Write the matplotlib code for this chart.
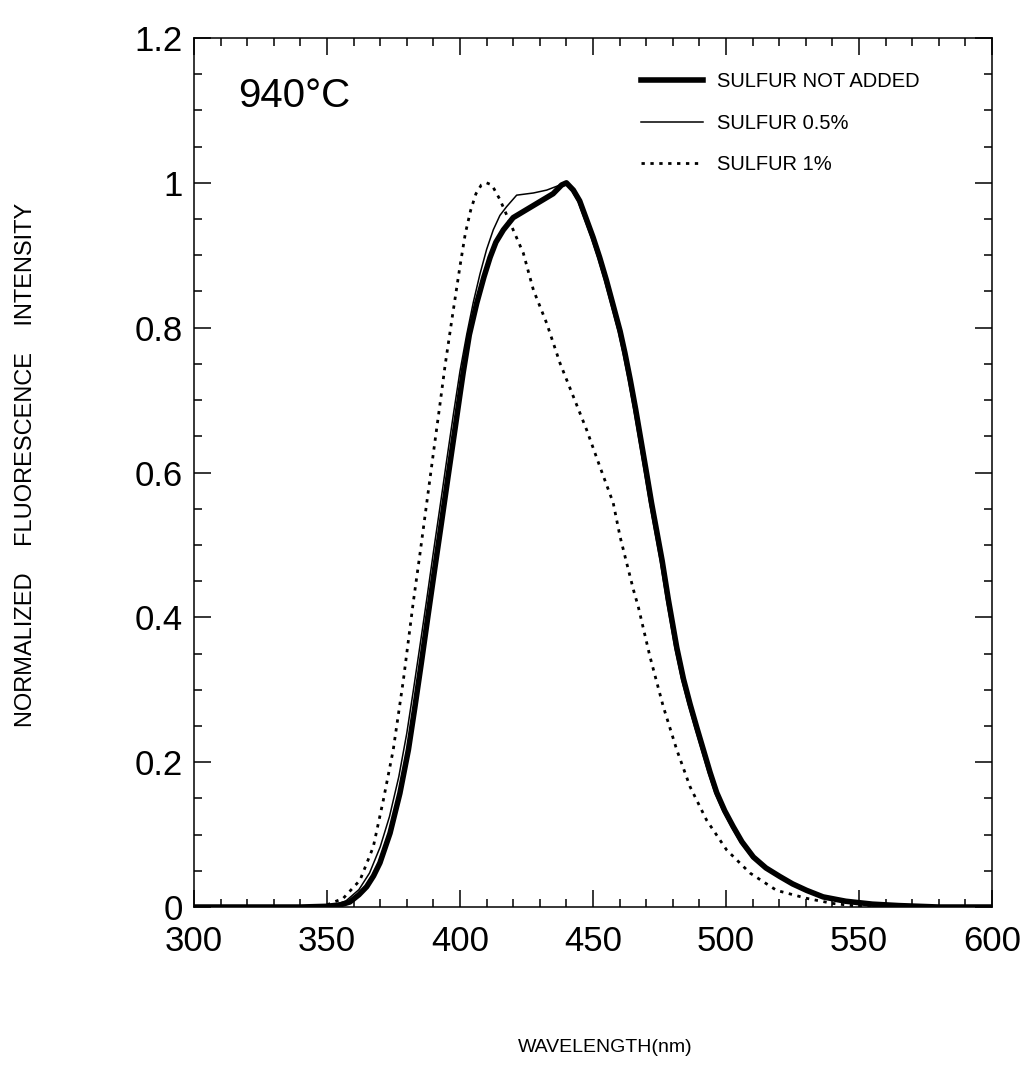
import matplotlib
matplotlib.use("Agg")
import matplotlib.pyplot as plt
from matplotlib.ticker import MultipleLocator

plt.rcParams['font.family'] = ['Liberation Sans', 'DejaVu Sans']

# sulfur not added (thick line)
wl_none = [300, 340, 350, 355, 358.6, 362, 364.9, 367.5, 369.9, 373.7, 377.4, 380.6, 383,
           385.5, 388, 390.5, 393, 395.5, 398, 400, 401.2, 403.5, 406.3, 409, 411.3, 413.5,
           416.3, 420, 425, 430, 435, 438.2, 440, 442.6, 445, 448, 450, 452.5, 455, 457.5,
           460.2, 462, 464, 466, 468, 470, 472, 474, 476, 478.3, 481.5, 484, 486.5, 489,
           491.5, 494, 496.5, 499.5, 502.7, 506, 510.3, 515, 520.3, 525, 530.3, 536.5, 545,
           555, 565, 580, 600]
int_none = [0, 0, 0.001, 0.003, 0.007, 0.017, 0.028, 0.043, 0.061, 0.102, 0.157, 0.217, 0.275,
            0.338, 0.403, 0.467, 0.53, 0.594, 0.657, 0.708, 0.738, 0.79, 0.834, 0.87, 0.897, 0.918,
            0.935, 0.952, 0.963, 0.974, 0.985, 0.997, 1.0, 0.99, 0.975, 0.945, 0.925, 0.897, 0.866,
            0.832, 0.795, 0.765, 0.728, 0.688, 0.645, 0.602, 0.558, 0.518, 0.478, 0.425, 0.358,
            0.315, 0.28, 0.248, 0.217, 0.186, 0.158, 0.133, 0.111, 0.09, 0.069, 0.054, 0.042,
            0.032, 0.023, 0.014, 0.008, 0.004, 0.002, 0, 0]

# sulfur 0.5% (thin line)
wl_05 = [300, 345, 352, 357, 362, 366, 370, 373.5, 377, 380, 382.5, 385, 387.5, 390, 392.5,
         395, 397.5, 400, 402.5, 405, 407.5, 410, 412.5, 415, 417.5, 421.3, 427.6, 432.6,
         437.6, 440, 441.9, 444.3, 447.3, 449.3, 451.8, 454.3, 456.8, 459.5, 461.3, 463.3,
         465.3, 467.3, 469.3, 471.3, 473.3, 475.3, 477.6, 480.8, 483.3, 485.8, 488.3, 490.8,
         493.3, 495.8, 498.8, 502, 505.3, 509.6, 514.3, 519.6, 524.3, 529.6, 535.8, 544,
         554, 564, 578, 600]
int_05 = [0, 0, 0.002, 0.008, 0.024, 0.047, 0.083, 0.125, 0.18, 0.24, 0.30, 0.362, 0.425, 0.49,
          0.553, 0.617, 0.68, 0.74, 0.79, 0.835, 0.874, 0.908, 0.935, 0.955, 0.967, 0.983, 0.986,
          0.990, 0.997, 1.0, 0.99, 0.975, 0.945, 0.925, 0.897, 0.866, 0.832, 0.795, 0.765,
          0.728, 0.688, 0.645, 0.602, 0.558, 0.518, 0.478, 0.425, 0.358, 0.315, 0.28, 0.248,
          0.217, 0.186, 0.158, 0.133, 0.111, 0.09, 0.069, 0.054, 0.042, 0.032, 0.023, 0.014,
          0.008, 0.004, 0.002, 0, 0]

# sulfur 1% (dotted line)
wl_1 = [300, 345, 350, 356.1, 362.4, 367.4, 371.2, 374.9, 378.7, 382.4, 385, 387.5, 390,
        392.5, 394.4, 396.9, 400, 402, 404, 406, 408, 410, 412, 415, 420, 423.8, 427.6,
        432.6, 437.6, 442.6, 447.6, 452.6, 457.6, 460.2, 465.2, 467, 471.4, 476.4, 481.5,
        486.5, 492.7, 500.2, 509, 519, 530.3, 540, 550, 600]
int_1 = [0, 0, 0.003, 0.012, 0.037, 0.083, 0.148, 0.217, 0.313, 0.42, 0.489, 0.558, 0.627,
         0.695, 0.748, 0.81, 0.885, 0.93, 0.962, 0.985, 0.997, 1.0, 0.997, 0.977, 0.935, 0.903,
         0.852, 0.806, 0.751, 0.705, 0.659, 0.608, 0.558, 0.511, 0.438, 0.415, 0.346, 0.277,
         0.217, 0.166, 0.120, 0.079, 0.047, 0.023, 0.012, 0.005, 0.001, 0]

labels = ['SULFUR NOT ADDED', 'SULFUR 0.5%', 'SULFUR 1%']

fig = plt.figure(figsize=(10.28, 10.86), dpi=100)
ax = fig.add_axes([0.1887, 0.1648, 0.7763, 0.8002])

ax.plot(wl_none, int_none, color='black', linewidth=4.0, label=labels[0])
ax.plot(wl_05, int_05, color='black', linewidth=1.1, label=labels[1])
ax.plot(wl_1, int_1, color='black', linewidth=2.0, dashes=(1.2, 2.0), label=labels[2])

ax.set_xlim(300, 600)
ax.set_ylim(0, 1.2)
ax.xaxis.set_major_locator(MultipleLocator(50))
ax.xaxis.set_minor_locator(MultipleLocator(10))
ax.yaxis.set_minor_locator(MultipleLocator(0.05))
ax.set_yticks([0, 0.2, 0.4, 0.6, 0.8, 1.0, 1.2])
ax.set_yticklabels(['0', '0.2', '0.4', '0.6', '0.8', '1', '1.2'])

ax.tick_params(which='both', direction='in', top=True, right=True, width=1.1, labelsize=25)
ax.tick_params(which='major', length=12)
ax.tick_params(which='minor', length=6)
ax.tick_params(axis='x', which='major', pad=13)
ax.tick_params(axis='y', which='major', pad=8)
for s in ax.spines.values():
    s.set_linewidth(1.1)

ax.text(316.5, 1.12, '940\u00b0C', fontsize=29, va='center', ha='left')

ax.legend(loc='upper left', bbox_to_anchor=(0.550, 0.970), frameon=False, fontsize=14.5,
          handlelength=3.1, labelspacing=1.12, handletextpad=0.7, borderaxespad=0)

fig.text(0.589, 0.035, 'WAVELENGTH(nm)', fontsize=14, ha='center', va='center')
fig.text(0.025, 0.572, 'NORMALIZED    FLUORESCENCE    INTENSITY',
         fontsize=17, rotation=90, ha='center', va='center')

fig.savefig('out.png', dpi=100)
